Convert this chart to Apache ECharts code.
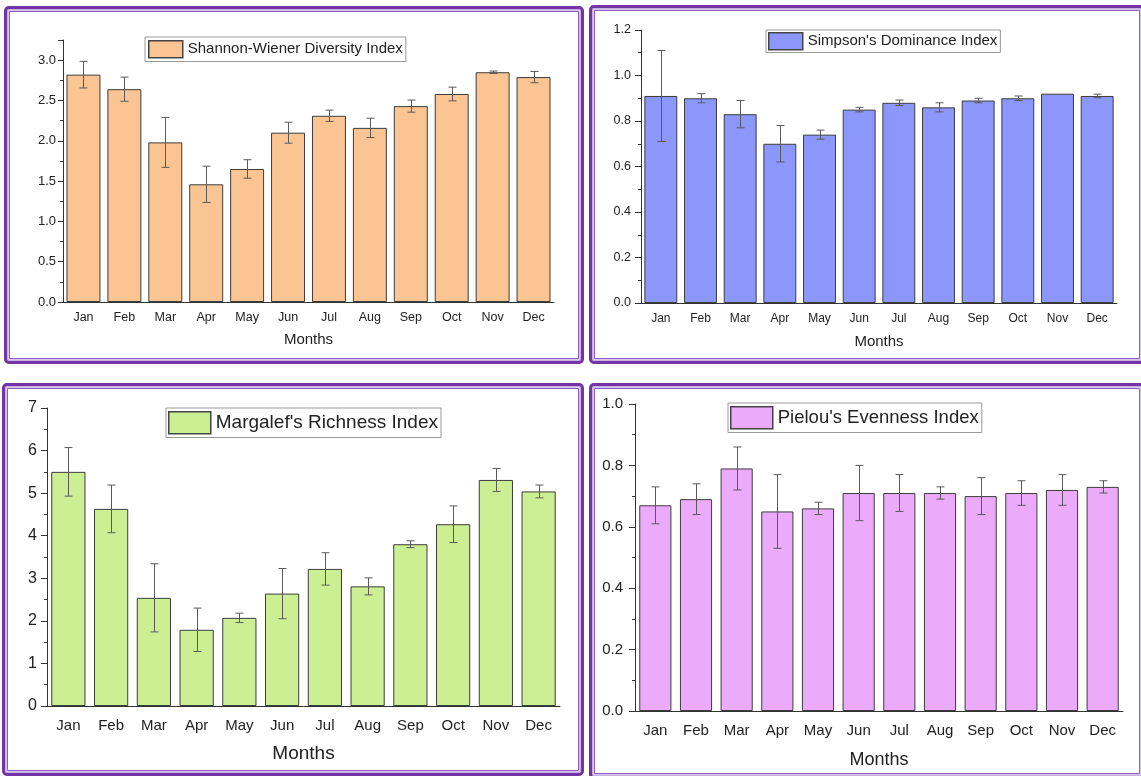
<!DOCTYPE html>
<html><head><meta charset="utf-8">
<script src="https://cdn.jsdelivr.net/npm/echarts@6/dist/echarts.min.js"></script>
<style>html,body{margin:0;padding:0;background:#fff}#c{width:1141px;height:776px}</style>
</head><body><div id="c"></div><script>
// ---------- data ----------
const months = ['Jan','Feb','Mar','Apr','May','Jun','Jul','Aug','Sep','Oct','Nov','Dec'];
const shannonValues = [2.82,2.64,1.98,1.46,1.65,2.10,2.31,2.16,2.43,2.58,2.85,2.79];
const shannonErrors = [0.165,0.15,0.31,0.225,0.115,0.13,0.07,0.12,0.075,0.085,0.015,0.07];
const simpsonValues = [0.91,0.90,0.83,0.70,0.74,0.85,0.88,0.86,0.89,0.90,0.92,0.91];
const simpsonErrors = [0.2,0.02,0.06,0.08,0.02,0.01,0.012,0.02,0.01,0.01,0,0.008];
const margalefValues = [5.50,4.63,2.54,1.79,2.07,2.64,3.22,2.81,3.80,4.27,5.31,5.04];
const margalefErrors = [0.57,0.56,0.8,0.51,0.11,0.59,0.38,0.2,0.08,0.43,0.27,0.15];
const pielouValues = [0.67,0.69,0.79,0.65,0.66,0.71,0.71,0.71,0.70,0.71,0.72,0.73];
const pielouErrors = [0.06,0.05,0.07,0.12,0.02,0.09,0.06,0.02,0.06,0.04,0.05,0.02];
const xAxisTitle = 'Months';

// ---------- layout ----------
const FONT = "'Liberation Sans', Arial, sans-serif";
const panels = [
  {name:'Shannon-Wiener Diversity Index', values:shannonValues, errors:shannonErrors, color:'#FAC593',
   frame:[4,6,580,358], grid:{left:63,top:40,width:491,height:262},
   y:{max:3.25,interval:0.5,dec:1,font:13,margin:7,tick:5}, x:{font:12.5,margin:9,nameFont:15,nameGap:30},
   barWidth:'83%', legend:{left:145,top:37,iw:34,ih:17,font:15,pad:[3,3,3,3]}},
  {name:"Simpson's Dominance Index", values:simpsonValues, errors:simpsonErrors, color:'#8C97FB',
   frame:[589,5,556,359], grid:{left:641,top:30,width:476,height:273},
   y:{max:1.2,interval:0.2,dec:1,font:12.5,margin:10,tick:6}, x:{font:12,margin:10,nameFont:15,nameGap:31},
   barWidth:'83%', legend:{left:766,top:30,iw:34,ih:17,font:15,pad:[2,3,2,2]}},
  {name:"Margalef's Richness Index", values:margalefValues, errors:margalefErrors, color:'#CDEF93',
   frame:[2,383,582,393], grid:{left:47,top:408,width:513,height:298},
   y:{max:7,interval:1,dec:0,font:16,margin:10,tick:6}, x:{font:15,margin:12,nameFont:19,nameGap:38},
   barWidth:'80%', legend:{left:166,top:408,iw:42,ih:22,font:19,pad:[3,3,3,2]}},
  {name:"Pielou's Evenness Index", values:pielouValues, errors:pielouErrors, color:'#EBABFA',
   frame:[589,383,556,396], grid:{left:635,top:404,width:488,height:307},
   y:{max:1.0,interval:0.2,dec:1,font:15,margin:12,tick:6}, x:{font:15,margin:12,nameFont:18,nameGap:40},
   barWidth:'79%', legend:{left:728,top:403,iw:42,ih:22,font:18.5,pad:[3,3,3,2]}}
];

const AX = '#333';
function errRender(params, api){
  const i = api.value(0), v = api.value(1), e = api.value(2);
  if (!e) return null;
  const hi = api.coord([i, v + e]);
  const lo = api.coord([i, v - e]);
  const x = Math.round(hi[0]) + 0.5, h = 4;
  const st = {stroke:'#5a5a5a', lineWidth:1};
  return {type:'group', children:[
    {type:'line', shape:{x1:x,y1:hi[1],x2:x,y2:lo[1]}, style:st},
    {type:'line', shape:{x1:x-h,y1:hi[1],x2:x+h,y2:hi[1]}, style:st},
    {type:'line', shape:{x1:x-h,y1:lo[1],x2:x+h,y2:lo[1]}, style:st}
  ]};
}

const option = {
  backgroundColor:'#fff', animation:false,
  textStyle:{fontFamily:FONT},
  grid:[], xAxis:[], yAxis:[], series:[], legend:[], graphic:[]
};

panels.forEach((p, k) => {
  const [L,T,W,H] = p.frame;
  option.graphic.push(
    {type:'rect', silent:true, z:100, shape:{x:L+1.75,y:T+1.75,width:W-3.5,height:H-3.5,r:3}, style:{fill:null,stroke:'#7334A6',lineWidth:3.5}},
    {type:'rect', silent:true, z:100, shape:{x:L+4.25,y:T+4.25,width:W-8.5,height:H-8.5}, style:{fill:null,stroke:'#D8C6EC',lineWidth:1.5}},
    {type:'rect', silent:true, z:100, shape:{x:L+5.5,y:T+5.5,width:W-11,height:H-11}, style:{fill:null,stroke:'#8F5CC2',lineWidth:1}}
  );
  option.grid.push(Object.assign({containLabel:false}, p.grid));
  option.xAxis[k] = {
    type:'category', gridIndex:k, data:months, boundaryGap:true, position:'bottom',
    axisLine:{lineStyle:{color:AX,width:1}},
    axisTick:{alignWithLabel:true, length:5, lineStyle:{color:AX}},
    axisLabel:{color:'#222', fontSize:p.x.font, margin:p.x.margin, fontFamily:FONT, interval:0},
    name:xAxisTitle, nameLocation:'middle', nameGap:p.x.nameGap,
    nameTextStyle:{color:'#222', fontSize:p.x.nameFont, fontFamily:FONT},
    splitLine:{show:false}, z:5
  };
  option.xAxis[k+4] = {
    type:'category', gridIndex:k, data:months, boundaryGap:true, position:'bottom', offset:0,
    axisLine:{show:false}, axisLabel:{show:false},
    axisTick:{alignWithLabel:false, length:3, lineStyle:{color:AX}, interval:0},
    splitLine:{show:false}
  };
  const itv = p.y.interval;
  option.yAxis[k] = {
    type:'value', gridIndex:k, min:0, max:p.y.max, interval:itv,
    axisLine:{show:true, lineStyle:{color:AX,width:1}},
    axisTick:{show:true, length:p.y.tick, lineStyle:{color:AX}},
    minorTick:{show:true, splitNumber:2, length:3, lineStyle:{color:AX}},
    axisLabel:{color:'#222', fontSize:p.y.font, margin:p.y.margin, fontFamily:FONT, showMaxLabel:true,
      formatter:v => {
        const r = v / itv;
        return Math.abs(r - Math.round(r)) < 1e-6 ? v.toFixed(p.y.dec) : '';
      }},
    splitLine:{show:false}, z:5
  };
  option.series.push({
    type:'bar', name:p.name, xAxisIndex:k, yAxisIndex:k, data:p.values, barWidth:p.barWidth,
    itemStyle:{color:p.color, borderColor:'#3c3c3c', borderWidth:1}, z:2
  });
  option.series.push({
    type:'custom', name:p.name+' error', xAxisIndex:k, yAxisIndex:k, renderItem:errRender,
    encode:{x:0,y:1}, data:p.values.map((v,i)=>[i, v, p.errors[i]]), z:4, silent:true
  });
  option.legend.push({
    data:[p.name], left:p.legend.left, top:p.legend.top, orient:'horizontal',
    icon:'rect', itemWidth:p.legend.iw, itemHeight:p.legend.ih, padding:p.legend.pad,
    borderColor:'#9a9a9a', borderWidth:1, backgroundColor:'#fff', borderRadius:0,
    itemStyle:{borderColor:'#444', borderWidth:1.5},
    textStyle:{color:'#222', fontSize:p.legend.font, fontFamily:FONT, padding:[0,0,0,0]},
    selectedMode:false
  });
});

const chart = echarts.init(document.getElementById('c'), null, {renderer:'canvas'});
chart.setOption(option);
</script></body></html>
